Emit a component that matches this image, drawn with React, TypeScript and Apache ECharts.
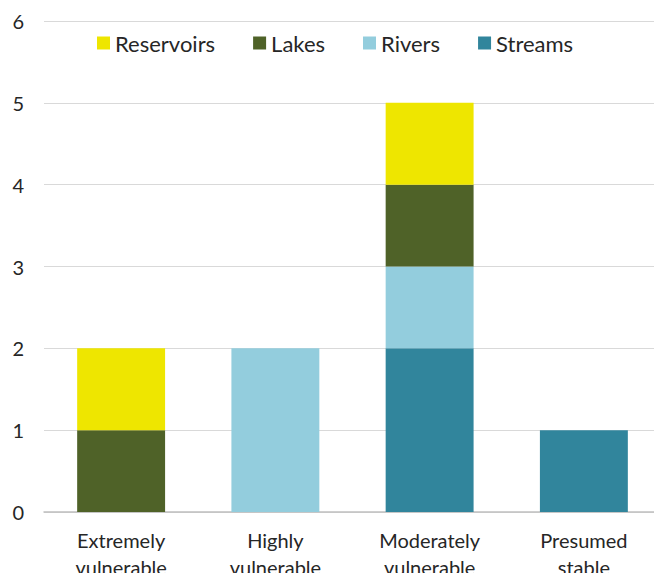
import React, { useEffect, useRef } from "react";
import * as echarts from "echarts";

const categories = ["Extremely\nvulnerable", "Highly\nvulnerable", "Moderately\nvulnerable", "Presumed\nstable"];
const streams = [0, 0, 2, 1];
const rivers = [0, 2, 1, 0];
const lakes = [1, 0, 1, 0];
const reservoirs = [1, 0, 1, 0];
const yTicks = [0, 1, 2, 3, 4, 5, 6];

const FONT = "Lato, 'Open Sans', sans-serif";

export default function App() {
  const ref = useRef<HTMLDivElement>(null);
  useEffect(() => {
    if (!ref.current) return;
    const chart = echarts.init(ref.current, null, { renderer: "svg" });
    const mk = (name: string, data: number[], color: string) => ({
      name,
      type: "bar",
      stack: "total",
      data,
      barWidth: "57%",
      itemStyle: { color },
    });
    chart.setOption({
      animation: false,
      textStyle: { fontFamily: FONT },
      grid: { left: 44, right: -7, top: 21, bottom: 61, containLabel: false, outerBoundsMode: "none" },
      legend: {
        top: 27,
        left: 92,
        itemWidth: 13,
        itemHeight: 13,
        itemGap: 38,
        icon: "rect",
        data: ["Reservoirs", "Lakes", "Rivers", "Streams"],
        textStyle: { fontFamily: FONT, fontSize: 22, color: "#262626" },
      },
      xAxis: {
        type: "category",
        data: categories,
        axisLine: { lineStyle: { color: "#bfbfbf", width: 1.5 } },
        axisTick: { show: false },
        axisLabel: {
          fontFamily: FONT,
          fontSize: 20,
          color: "#262626",
          margin: 14,
          lineHeight: 27,
          interval: 0,
        },
      },
      yAxis: {
        type: "value",
        min: yTicks[0],
        max: yTicks[yTicks.length - 1],
        interval: 1,
        axisLine: { show: false },
        axisTick: { show: false },
        splitLine: { lineStyle: { color: "#d9d9d9", width: 1 } },
        axisLabel: { fontFamily: FONT, fontSize: 20, color: "#262626", margin: 20 },
      },
      series: [
        mk("Streams", streams, "#31859C"),
        mk("Rivers", rivers, "#93CDDD"),
        mk("Lakes", lakes, "#4F6228"),
        mk("Reservoirs", reservoirs, "#EEE600"),
      ],
    });
    return () => chart.dispose();
  }, []);
  return (
    <div
      ref={ref}
      style={{ position: "fixed", left: 0, top: 0, width: 654, height: 573, background: "#fff" }}
    />
  );
}
